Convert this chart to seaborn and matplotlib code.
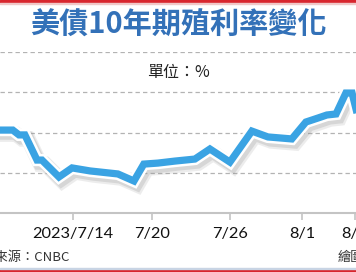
import matplotlib
matplotlib.use('Agg')
import matplotlib.pyplot as plt
import matplotlib.patheffects as pe
from matplotlib.patches import Rectangle
import seaborn as sns
import pandas as pd

# sample position along the time axis (ticks below mark dates)
sample_pos = [-0.9, 1.8, 2.75, 3.65, 5.5, 6.25, 8.85, 10.85, 13.6, 17.85, 20.3,
              21.8, 23.95, 26.55, 29.6, 31.9, 34.95, 38.3, 40.75, 44.4, 46.55,
              48.4, 49.75, 51.15, 52.65, 53.6, 54.8]
# 10-year US Treasury yield, %
yield_pct = [4.012, 4.012, 3.988, 3.988, 3.863, 3.863, 3.779, 3.824, 3.809, 3.794,
             3.759, 3.843, 3.848, 3.858, 3.868, 3.918, 3.853, 4.007, 3.978, 3.968,
             4.052, 4.072, 4.087, 4.092, 4.196, 4.196, 4.037]
tick_pos = [11, 23, 35, 46, 54]
tick_labels = ['2023/7/14', '7/20', '7/26', '8/1', '8/7']
grid_levels = [3.8, 4.0, 4.2, 4.4]

title = '美債10年期殖利率變化'
unit_text = '單位：%'
source_text = '資料來源：CNBC'
credit_text = '繪圖：'

sns.set_theme(style='white')
plt.rcParams['font.family'] = ['Noto Sans CJK TC', 'DejaVu Sans']

W, H = 356, 272
fig = plt.figure(figsize=(W / 100, H / 100), dpi=100)
fig.patch.set_facecolor('white')
ax = fig.add_axes([0, (H - 213) / H, 1, 161 / H])
ax.set_facecolor('none')

df = pd.DataFrame({'pos': sample_pos, 'yield': yield_pct})
sns.lineplot(data=df, x='pos', y='yield', ax=ax, color='#3aa3e3', linewidth=5.2,
             sort=False, solid_joinstyle='miter', solid_capstyle='butt', zorder=3)
line = ax.lines[-1]
line.set_path_effects([
    pe.SimpleLineShadow(offset=(2.4, -3.0), shadow_color='#999999', alpha=0.18, linewidth=11),
    pe.SimpleLineShadow(offset=(1.8, -2.2), shadow_color='#888888', alpha=0.22, linewidth=9.5),
    pe.Stroke(linewidth=8.8, foreground='white'),
    pe.Normal(),
])

ax.set_xlim(-0.15, 54.2)
ax.set_ylim(3.6, 4.4)
ax.set_yticks(grid_levels)
ax.grid(axis='y', color='#b3b3b3', linewidth=0.9, linestyle=(0, (3.5, 2.5)))
ax.grid(axis='x', visible=False)
ax.set_xticks(tick_pos)
ax.set_xticklabels(tick_labels, fontfamily=['Lato', 'DejaVu Sans'])
ax.tick_params(axis='y', left=False, labelleft=False)
ax.tick_params(axis='x', bottom=True, direction='out', length=5, width=1.2,
               color='#c4c4c4', labelsize=11.8, pad=5, labelcolor='#111111')
for s in ['top', 'left', 'right']:
    ax.spines[s].set_visible(False)
ax.spines['bottom'].set_color('#c4c4c4')
ax.spines['bottom'].set_linewidth(1.5)
ax.set_xlabel('')
ax.set_ylabel('')

fig.text(178 / W, 1 - 25 / H, title, ha='center', va='center', fontsize=21,
         fontweight='bold', color='#3371b8')
fig.text(178 / W, 1 - 73 / H, unit_text, ha='center', va='center', fontsize=11.5,
         color='#222222')
fig.text(70 / W, 1 - 257 / H, source_text, ha='right', va='center', fontsize=9.5,
         color='#333333')
fig.text(338 / W, 1 - 257 / H, credit_text, ha='left', va='center', fontsize=9.5,
         color='#333333')

# top and bottom red rules
fig.patches.append(Rectangle((0, 1 - 2 / H), 1, 2 / H, transform=fig.transFigure,
                             color='#d8262e', zorder=10))
fig.patches.append(Rectangle((0, 1 - 4 / H), 1, 1 / H, transform=fig.transFigure,
                             color='#f0c8c8', zorder=10))
fig.patches.append(Rectangle((0, 0), 1, 2 / H, transform=fig.transFigure,
                             color='#d8262e', zorder=10))
fig.patches.append(Rectangle((0, 3 / H), 1, 1 / H, transform=fig.transFigure,
                             color='#c8d4e4', zorder=10))

fig.savefig('out.png', dpi=100, facecolor='white')
